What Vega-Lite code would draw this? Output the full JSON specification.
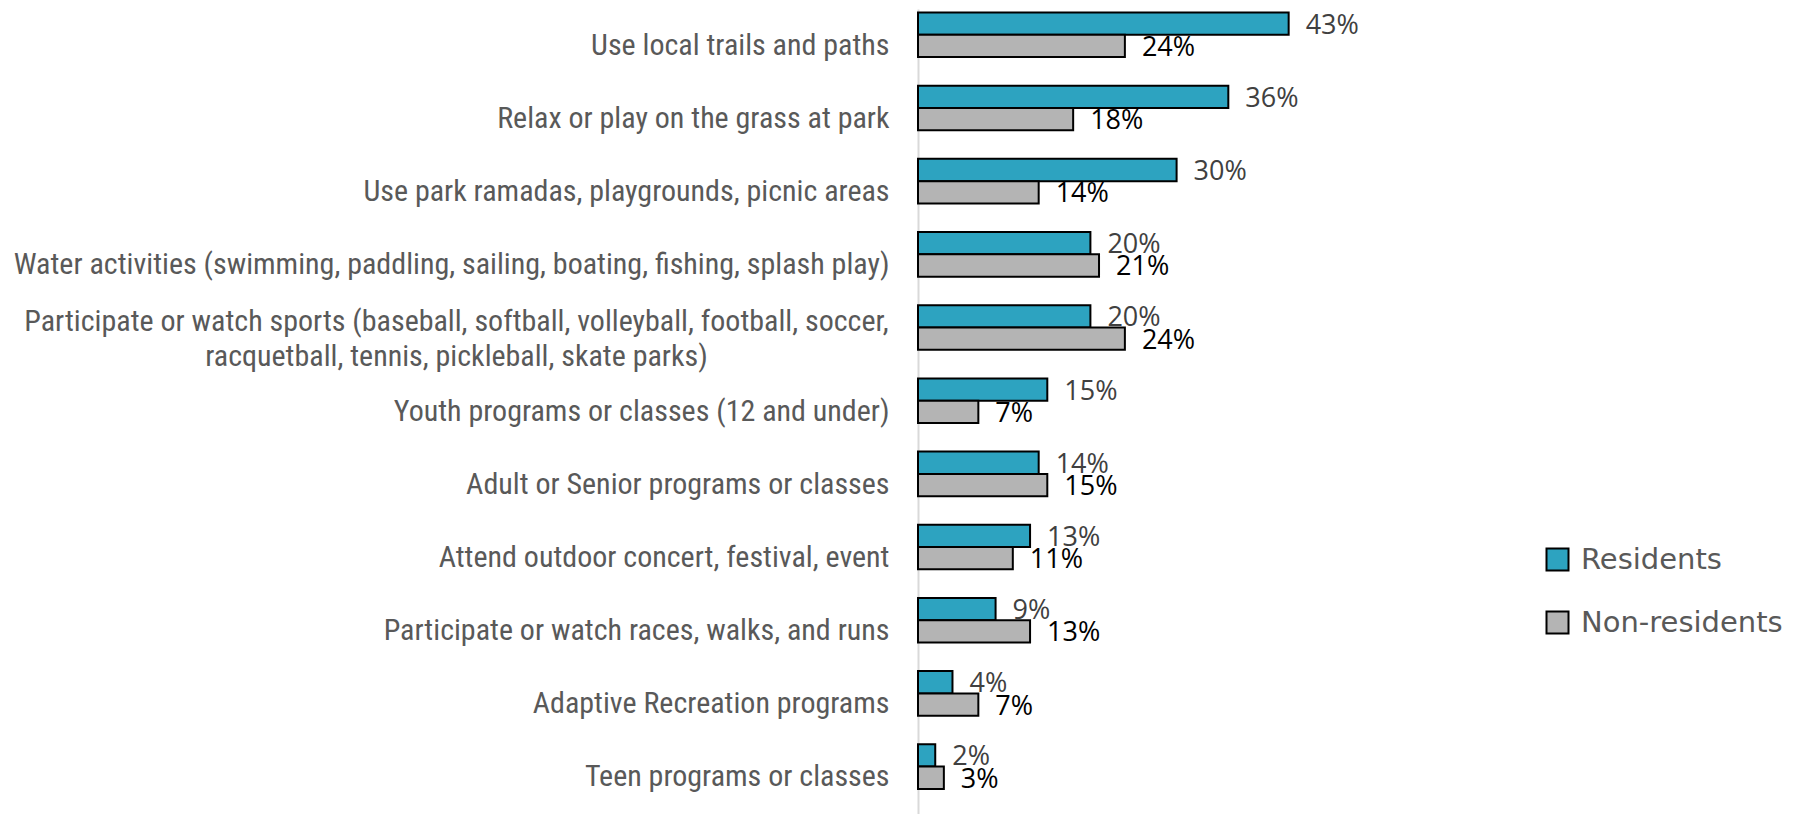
{
  "$schema": "https://vega.github.io/schema/vega-lite/v6.json",
  "width": 431,
  "height": 805,
  "autosize": {"type": "none"},
  "padding": {"left": 918, "top": 9, "right": 453, "bottom": 0},
  "background": "white",
  "view": {"stroke": null},
  "data": {
    "values": [
      {"activity": "Use local trails and paths", "series": "Residents", "share": 0.43},
      {"activity": "Use local trails and paths", "series": "Non-residents", "share": 0.24},
      {"activity": "Relax or play on the grass at park", "series": "Residents", "share": 0.36},
      {"activity": "Relax or play on the grass at park", "series": "Non-residents", "share": 0.18},
      {"activity": "Use park ramadas, playgrounds, picnic areas", "series": "Residents", "share": 0.30},
      {"activity": "Use park ramadas, playgrounds, picnic areas", "series": "Non-residents", "share": 0.14},
      {"activity": "Water activities (swimming, paddling, sailing, boating, fishing, splash play)", "series": "Residents", "share": 0.20},
      {"activity": "Water activities (swimming, paddling, sailing, boating, fishing, splash play)", "series": "Non-residents", "share": 0.21},
      {"activity": "Participate or watch sports (baseball, softball, volleyball, football, soccer, racquetball, tennis, pickleball, skate parks)", "series": "Residents", "share": 0.20},
      {"activity": "Participate or watch sports (baseball, softball, volleyball, football, soccer, racquetball, tennis, pickleball, skate parks)", "series": "Non-residents", "share": 0.24},
      {"activity": "Youth programs or classes (12 and under)", "series": "Residents", "share": 0.15},
      {"activity": "Youth programs or classes (12 and under)", "series": "Non-residents", "share": 0.07},
      {"activity": "Adult or Senior programs or classes", "series": "Residents", "share": 0.14},
      {"activity": "Adult or Senior programs or classes", "series": "Non-residents", "share": 0.15},
      {"activity": "Attend outdoor concert, festival, event", "series": "Residents", "share": 0.13},
      {"activity": "Attend outdoor concert, festival, event", "series": "Non-residents", "share": 0.11},
      {"activity": "Participate or watch races, walks, and runs", "series": "Residents", "share": 0.09},
      {"activity": "Participate or watch races, walks, and runs", "series": "Non-residents", "share": 0.13},
      {"activity": "Adaptive Recreation programs", "series": "Residents", "share": 0.04},
      {"activity": "Adaptive Recreation programs", "series": "Non-residents", "share": 0.07},
      {"activity": "Teen programs or classes", "series": "Residents", "share": 0.02},
      {"activity": "Teen programs or classes", "series": "Non-residents", "share": 0.03}
    ]
  },
  "encoding": {
    "y": {
      "field": "activity",
      "type": "nominal",
      "sort": null,
      "scale": {"paddingInner": 0, "paddingOuter": 0},
      "axis": {
        "title": null,
        "ticks": false,
        "grid": false,
        "domain": true,
        "domainColor": "#d9d9d9",
        "domainWidth": 2,
        "labelFont": "Liberation Sans Narrow, Roboto Condensed, DejaVu Sans Condensed, Liberation Sans",
        "labelFontSize": 30,
        "labelColor": "#595959",
        "labelLimit": 2000,
        "labelLineHeight": 35,
        "labelPadding": {"condition": {"test": "indexof(datum.value, 'soccer,') >= 0", "value": 462}, "value": 29},
        "labelAlign": {"condition": {"test": "indexof(datum.value, 'soccer,') >= 0", "value": "center"}, "value": "right"},
        "labelOffset": {"condition": {"test": "indexof(datum.value, 'soccer,') >= 0", "value": -16}, "value": 0},
        "labelExpr": "indexof(datum.label, 'soccer,') >= 0 ? ['Participate or watch sports (baseball, softball, volleyball, football, soccer,', 'racquetball, tennis, pickleball, skate parks)'] : datum.label"
      }
    },
    "yOffset": {
      "field": "series",
      "type": "nominal",
      "sort": ["Residents", "Non-residents"],
      "scale": {"paddingInner": 0, "paddingOuter": 0.641, "align": 0.122}
    },
    "x": {
      "field": "share",
      "type": "quantitative",
      "scale": {"domain": [0, 0.5], "nice": false, "zero": true},
      "axis": null
    }
  },
  "layer": [
    {
      "mark": {"type": "bar", "stroke": "black", "strokeWidth": 2},
      "encoding": {
        "fill": {
          "field": "series",
          "type": "nominal",
          "sort": ["Residents", "Non-residents"],
          "scale": {"domain": ["Residents", "Non-residents"], "range": ["#2DA3C0", "#B4B4B4"]},
          "legend": {
            "title": null,
            "orient": "none",
            "legendX": 625,
            "legendY": 536,
            "padding": 0,
            "symbolType": "square",
            "symbolSize": 484,
            "symbolStrokeColor": "black",
            "symbolStrokeWidth": 2,
            "labelFont": "DejaVu Sans",
            "labelFontSize": 29,
            "labelColor": "#595959",
            "labelOffset": 9,
            "rowPadding": 32,
            "labelLimit": 1000
          }
        }
      }
    },
    {
      "mark": {"type": "text", "align": "left", "baseline": "middle", "dx": 17, "dy": 2, "font": "Open Sans", "fontSize": 27},
      "encoding": {
        "text": {"field": "share", "type": "quantitative", "format": ".0%"},
        "color": {"condition": {"test": "datum.series === 'Residents'", "value": "#404040"}, "value": "#000000"}
      }
    }
  ]
}
